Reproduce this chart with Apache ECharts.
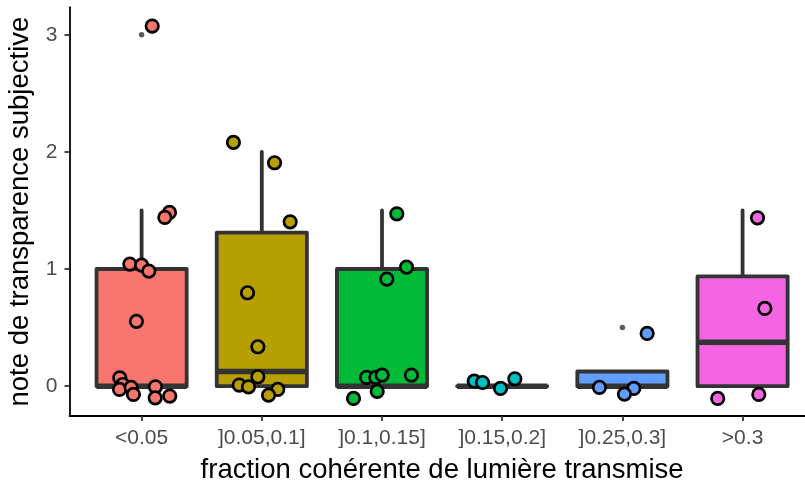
<!DOCTYPE html>
<html>
<head>
<meta charset="utf-8">
<script src="https://cdn.jsdelivr.net/npm/echarts@6/dist/echarts.min.js"></script>
<style>
  html, body { margin: 0; padding: 0; background: #fff; }
  #chart { width: 805px; height: 486px; }
</style>
</head>
<body>
<div id="chart"></div>
<script>
// categories and box stats
const categories = ['<0.05', ']0.05,0.1]', ']0.1,0.15]', ']0.15,0.2]', ']0.25,0.3]', '>0.3']
const colors = ['#F8766D', '#B79F00', '#00BA38', '#00BFC4', '#619CFF', '#F564E3']
const boxLower = [0, 0, 0, 0, 0, 0]
const boxQ1 = [0, 0, 0, 0, 0, 0]
const boxMedian = [0, 0.125, 0, 0, 0, 0.375]
const boxQ3 = [1, 1.31, 1, 0, 0.125, 0.9375]
const boxUpper = [1.5, 2, 1.5, 0, 0.125, 1.5]
const outlierX = [1, 5]
const outlierY = [3, 0.5]

// jittered points, one list per category
const pointsX = [
  [1.088, 1.232, 1.193, 0.902, 1.0, 1.06, 0.957, 0.818, 0.843, 0.816, 0.913, 0.932, 1.115, 1.113, 1.234],
  [1.764, 2.106, 2.236, 1.881, 1.967, 1.967, 1.812, 1.889, 2.133, 2.056],
  [3.123, 3.204, 3.04, 2.871, 2.948, 3.001, 3.245, 2.96, 2.763],
  [3.767, 3.836, 3.986, 4.105],
  [5.206, 4.809, 5.095, 5.017],
  [6.124, 6.185, 5.793, 6.135]
]
const pointsY = [
  [3.074, 1.483, 1.44, 1.042, 1.033, 0.982, 0.553, 0.071, 0.014, -0.028, -0.011, -0.071, -0.006, -0.1, -0.085],
  [2.081, 1.907, 1.403, 0.797, 0.336, 0.08, 0.009, -0.006, -0.028, -0.077],
  [1.471, 1.016, 0.914, 0.074, 0.074, 0.094, 0.094, -0.045, -0.105],
  [0.043, 0.031, -0.02, 0.063],
  [0.45, -0.011, -0.02, -0.068],
  [1.437, 0.663, -0.105, -0.071]
]
const xTicks = [1, 2, 3, 4, 5, 6]
const yTicks = [0, 1, 2, 3]

const font = 'Liberation Sans'
const chart = echarts.init(document.getElementById('chart'), null, { renderer: 'canvas' })

let boxData = categories.map((c, i) => [i + 1, boxLower[i], boxQ1[i], boxMedian[i], boxQ3[i], boxUpper[i]])

function renderBox(params, api) {
  let x = api.value(0)
  let pLow = api.coord([x, api.value(1)])
  let pQ1 = api.coord([x, api.value(2)])
  let pMed = api.coord([x, api.value(3)])
  let pQ3 = api.coord([x, api.value(4)])
  let pUp = api.coord([x, api.value(5)])
  let half = api.size([0.375, 0])[0]
  let stroke = { stroke: '#333333', lineWidth: 3.8, lineCap: 'round' }
  return {
    type: 'group',
    children: [
      { type: 'line', shape: { x1: pQ3[0], y1: pQ3[1], x2: pUp[0], y2: pUp[1] }, style: stroke },
      { type: 'line', shape: { x1: pLow[0], y1: pLow[1], x2: pQ1[0], y2: pQ1[1] }, style: stroke },
      {
        type: 'rect',
        shape: { x: pQ3[0] - half, y: pQ3[1], width: half * 2, height: pQ1[1] - pQ3[1] },
        style: { fill: colors[params.dataIndex], stroke: '#333333', lineWidth: 3.8, lineJoin: 'round' }
      },
      { type: 'line', shape: { x1: pMed[0] - half, y1: pMed[1], x2: pMed[0] + half, y2: pMed[1] }, style: { stroke: '#333333', lineWidth: 5.5, lineCap: 'butt' } }
    ]
  }
}

let series = [
  {
    type: 'custom',
    renderItem: renderBox,
    encode: { x: 0, y: [1, 2, 3, 4, 5] },
    data: boxData,
    clip: false,
    z: 1
  },
  {
    type: 'scatter',
    data: outlierX.map((x, i) => [x, outlierY[i]]),
    symbolSize: 5.5,
    itemStyle: { color: '#333333' },
    z: 2
  }
]
pointsX.forEach((xs, i) => {
  series.push({
    type: 'scatter',
    data: xs.map((x, j) => [x, pointsY[i][j]]),
    symbolSize: 12.5,
    itemStyle: { color: colors[i], borderColor: '#000000', borderWidth: 2.7, opacity: 1 },
    z: 3
  })
})

chart.setOption({
  animation: false,
  backgroundColor: '#ffffff',
  textStyle: { fontFamily: font },
  grid: { left: 69.5, right: -9.7, top: 7.2, bottom: 70, outerBoundsMode: 'none' },
  xAxis: {
    type: 'value',
    min: 0.4,
    max: 6.6,
    name: 'fraction cohérente de lumière transmise',
    nameLocation: 'middle',
    nameGap: 40,
    nameTextStyle: { fontFamily: font, fontSize: 27.5, color: '#000000' },
    axisLine: { show: true, onZero: false, lineStyle: { color: '#000000', width: 1.8 } },
    axisTick: { show: true, customValues: xTicks, length: 5, lineStyle: { color: '#333333', width: 1.8 } },
    axisLabel: {
      customValues: xTicks,
      formatter: v => categories[Math.round(v) - 1],
      fontFamily: font,
      fontSize: 21,
      color: '#4D4D4D',
      margin: 12
    },
    splitLine: { show: false }
  },
  yAxis: {
    type: 'value',
    min: -0.255,
    max: 3.235,
    name: 'note de transparence subjective',
    nameLocation: 'middle',
    nameGap: 32,
    nameTextStyle: { fontFamily: font, fontSize: 27.5, color: '#000000' },
    axisLine: { show: true, onZero: false, lineStyle: { color: '#000000', width: 1.8 } },
    axisTick: { show: true, customValues: yTicks, length: 5, lineStyle: { color: '#333333', width: 1.8 } },
    axisLabel: {
      customValues: yTicks,
      fontFamily: font,
      fontSize: 21,
      color: '#4D4D4D',
      margin: 12
    },
    splitLine: { show: false }
  },
  series: series
})
</script>
</body>
</html>
